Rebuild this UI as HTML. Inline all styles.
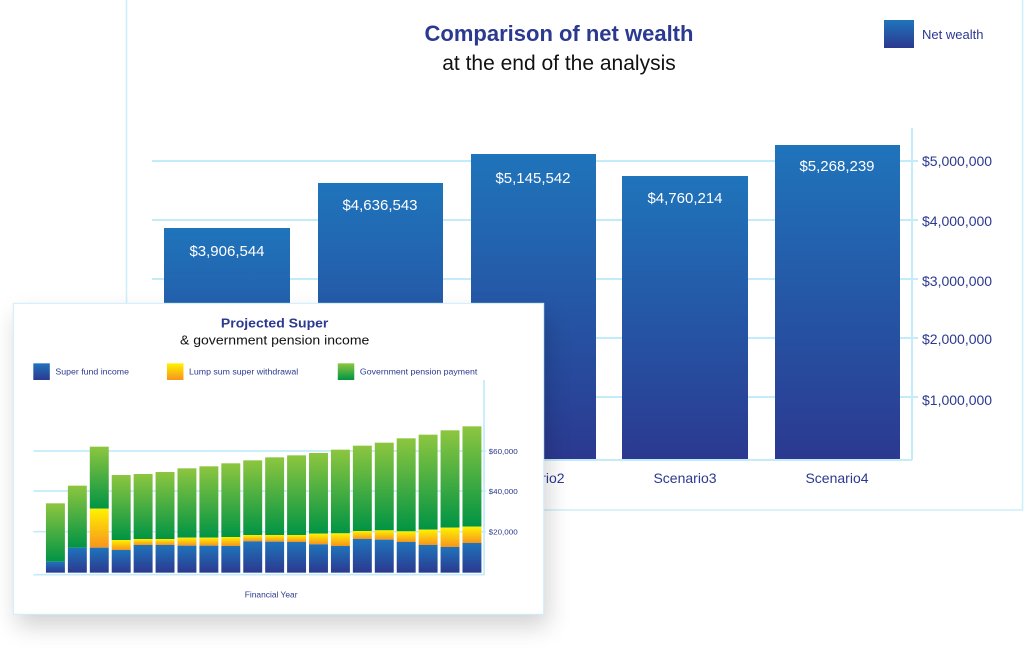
<!DOCTYPE html>
<html><head><meta charset="utf-8"><style>
html,body{margin:0;padding:0;background:#fff;width:1024px;height:648px;overflow:hidden;font-family:"Liberation Sans",sans-serif}
#big{position:absolute;left:0;top:0}
#small{position:absolute;left:13px;top:303px;width:531px;height:311px;background:#fff;box-shadow:4px 12px 22px rgba(0,0,0,0.18)}
#small svg{position:absolute;left:-13px;top:-3px}
</style></head><body>
<svg id="big" width="1024" height="648" viewBox="0 0 1024 648">
<defs>
<linearGradient id="bg" x1="0" y1="0" x2="0" y2="1"><stop offset="0" stop-color="#1f74bb"/><stop offset="1" stop-color="#2b3990"/></linearGradient>
</defs>
<rect x="126.5" y="-2" width="896" height="512" fill="#fff" stroke="#cdeefb" stroke-width="1.5"/>
<text x="559" y="41" text-anchor="middle" font-size="22" font-weight="bold" fill="#2b3990">Comparison of net wealth</text>
<text x="559" y="70" text-anchor="middle" font-size="21" fill="#111">at the end of the analysis</text>
<rect x="884" y="20" width="30" height="28" fill="url(#bg)"/>
<text x="922" y="39" font-size="13" fill="#2b3990">Net wealth</text>
<g stroke="#c3ecfa" stroke-width="2">
<line x1="152" y1="161" x2="918" y2="161"/><line x1="152" y1="220" x2="918" y2="220"/><line x1="152" y1="279" x2="918" y2="279"/><line x1="152" y1="338" x2="918" y2="338"/><line x1="152" y1="397" x2="918" y2="397"/>
<line x1="912" y1="128" x2="912" y2="460"/><line x1="152" y1="460" x2="912" y2="460"/>
</g>
<g fill="url(#bg)">
<rect x="164" y="228" width="126" height="231"/><rect x="318" y="183" width="125" height="276"/><rect x="471" y="154" width="125" height="305"/><rect x="622" y="176" width="126" height="283"/><rect x="775" y="145" width="125" height="314"/>
</g>
<g fill="#fff" font-size="15" text-anchor="middle">
<text x="227" y="256">$3,906,544</text><text x="380" y="210">$4,636,543</text><text x="533" y="183">$5,145,542</text><text x="685" y="203">$4,760,214</text><text x="837" y="171">$5,268,239</text>
</g>
<g fill="#2b3990" font-size="14">
<text x="922" y="166">$5,000,000</text><text x="922" y="226">$4,000,000</text><text x="922" y="286">$3,000,000</text><text x="922" y="344">$2,000,000</text><text x="922" y="405">$1,000,000</text>
</g>
<g fill="#2b3990" font-size="14" text-anchor="middle">
<text x="533" y="483">Scenario2</text><text x="685" y="483">Scenario3</text><text x="837" y="483">Scenario4</text>
</g>
</svg>
<div id="small">
<svg width="550" height="330" viewBox="0 0 1568 990" preserveAspectRatio="none">
<defs>
<linearGradient id="sb" x1="0" y1="0" x2="0" y2="1"><stop offset="0" stop-color="#1f74bb"/><stop offset="1" stop-color="#2b3990"/></linearGradient>
<linearGradient id="sy" x1="0" y1="0" x2="0" y2="1"><stop offset="0" stop-color="#fff200"/><stop offset="1" stop-color="#f7941d"/></linearGradient>
<linearGradient id="sg" x1="0" y1="0" x2="0" y2="1"><stop offset="0" stop-color="#8dc63f"/><stop offset="1" stop-color="#009444"/></linearGradient>
</defs>
<rect x="38" y="10" width="1512" height="933" fill="#fff" stroke="#cdeefb" stroke-width="3"/>
<text x="783" y="82" text-anchor="middle" font-size="40" font-weight="bold" fill="#2b3990">Projected Super</text>
<text x="783" y="134" text-anchor="middle" font-size="40" fill="#111">&amp; government pension income</text>
<rect x="95" y="190" width="47" height="50" fill="url(#sb)"/><text x="158" y="223" font-size="25" fill="#2b3990">Super fund income</text>
<rect x="476" y="190" width="47" height="50" fill="url(#sy)"/><text x="539" y="223" font-size="25" fill="#2b3990">Lump sum super withdrawal</text>
<rect x="963" y="190" width="47" height="50" fill="url(#sg)"/><text x="1026" y="223" font-size="25" fill="#2b3990">Government pension payment</text>
<g stroke="#c3ecfa" stroke-width="5">
<line x1="95" y1="453" x2="1385" y2="453"/><line x1="95" y1="573" x2="1385" y2="573"/><line x1="95" y1="695" x2="1385" y2="695"/>
<line x1="1380" y1="240" x2="1380" y2="825"/><line x1="95" y1="824" x2="1382" y2="824"/>
</g>
<g fill="url(#sg)">
<rect x="131" y="610" width="54" height="175"/>
<rect x="193.5" y="557" width="54" height="186"/>
<rect x="256" y="440" width="54" height="186"/>
<rect x="318.5" y="525" width="54" height="195"/>
<rect x="381" y="522" width="54" height="195"/>
<rect x="443.5" y="516" width="54" height="201"/>
<rect x="506" y="505" width="54" height="208"/>
<rect x="568.5" y="499" width="54" height="214"/>
<rect x="631" y="490" width="54" height="221"/>
<rect x="693.5" y="481" width="54" height="224"/>
<rect x="756" y="472" width="54" height="233"/>
<rect x="818.5" y="466" width="54" height="239"/>
<rect x="881" y="459" width="54" height="242"/>
<rect x="943.5" y="449" width="54" height="251"/>
<rect x="1006" y="437" width="54" height="256"/>
<rect x="1068.5" y="428" width="54" height="263"/>
<rect x="1131" y="415" width="54" height="279"/>
<rect x="1193.5" y="404" width="54" height="285"/>
<rect x="1256" y="391" width="54" height="292"/>
<rect x="1318.5" y="379" width="54" height="301"/>
</g>
<g fill="url(#sy)">
<rect x="256" y="626" width="54" height="117"/>
<rect x="318.5" y="720" width="54" height="30"/>
<rect x="381" y="717" width="54" height="18"/>
<rect x="443.5" y="717" width="54" height="18"/>
<rect x="506" y="713" width="54" height="24"/>
<rect x="568.5" y="713" width="54" height="24"/>
<rect x="631" y="711" width="54" height="27"/>
<rect x="693.5" y="705" width="54" height="19"/>
<rect x="756" y="705" width="54" height="20"/>
<rect x="818.5" y="705" width="54" height="21"/>
<rect x="881" y="701" width="54" height="32"/>
<rect x="943.5" y="700" width="54" height="38"/>
<rect x="1006" y="693" width="54" height="24"/>
<rect x="1068.5" y="691" width="54" height="28"/>
<rect x="1131" y="694" width="54" height="32"/>
<rect x="1193.5" y="689" width="54" height="46"/>
<rect x="1256" y="683" width="54" height="58"/>
<rect x="1318.5" y="680" width="54" height="49"/>
</g>
<g fill="url(#sb)">
<rect x="131" y="785" width="54" height="33"/>
<rect x="193.5" y="743" width="54" height="75"/>
<rect x="256" y="743" width="54" height="75"/>
<rect x="318.5" y="750" width="54" height="68"/>
<rect x="381" y="735" width="54" height="83"/>
<rect x="443.5" y="735" width="54" height="83"/>
<rect x="506" y="737" width="54" height="81"/>
<rect x="568.5" y="737" width="54" height="81"/>
<rect x="631" y="738" width="54" height="80"/>
<rect x="693.5" y="724" width="54" height="94"/>
<rect x="756" y="725" width="54" height="93"/>
<rect x="818.5" y="726" width="54" height="92"/>
<rect x="881" y="733" width="54" height="85"/>
<rect x="943.5" y="738" width="54" height="80"/>
<rect x="1006" y="717" width="54" height="101"/>
<rect x="1068.5" y="719" width="54" height="99"/>
<rect x="1131" y="726" width="54" height="92"/>
<rect x="1193.5" y="735" width="54" height="83"/>
<rect x="1256" y="741" width="54" height="77"/>
<rect x="1318.5" y="729" width="54" height="89"/>
</g>
<g fill="#2b3990" font-size="23">
<text x="1393" y="462">$60,000</text><text x="1393" y="582">$40,000</text><text x="1393" y="704">$20,000</text>
</g>
<text x="773" y="893" text-anchor="middle" font-size="24" fill="#2b3990">Financial Year</text>
</svg>
</div>
</body></html>
